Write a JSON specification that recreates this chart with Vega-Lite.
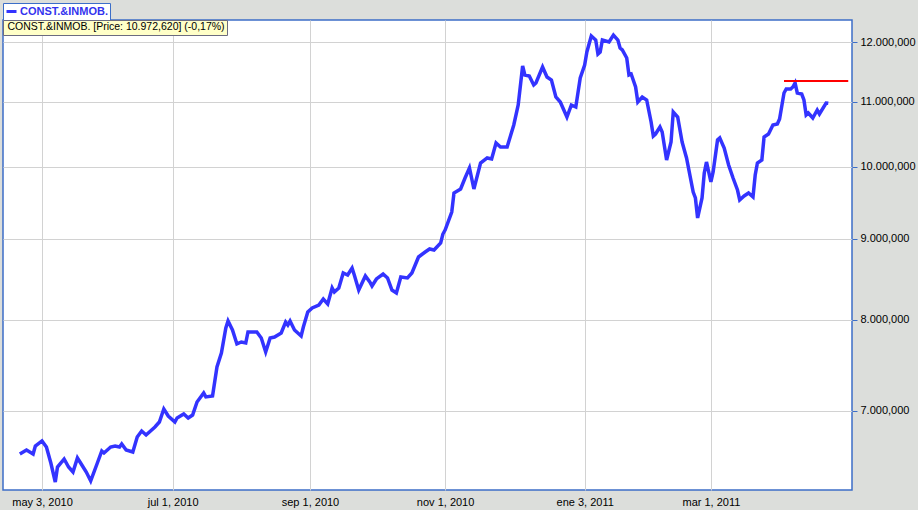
{
  "$schema": "https://vega.github.io/schema/vega-lite/v6.json",
  "width": 849,
  "height": 470,
  "autosize": {"type": "none"},
  "padding": {"left": 3, "top": 20, "right": 66, "bottom": 20},
  "background": "#dcdedb",
  "config": {
    "view": {"fill": "white", "stroke": "#3c6ec8", "strokeWidth": 1.5},
    "font": "Liberation Sans"
  },
  "layer": [
    {
      "data": {"values": [
        {"d":"2010-04-23","v":6574000},{"d":"2010-04-26","v":6612000},{"d":"2010-04-29","v":6574000},{"d":"2010-04-30","v":6651000},
        {"d":"2010-05-03","v":6700000},{"d":"2010-05-05","v":6641000},{"d":"2010-05-07","v":6488000},{"d":"2010-05-09","v":6310000},
        {"d":"2010-05-10","v":6450000},{"d":"2010-05-13","v":6526000},{"d":"2010-05-15","v":6450000},{"d":"2010-05-17","v":6403000},
        {"d":"2010-05-19","v":6536000},{"d":"2010-05-21","v":6469000},{"d":"2010-05-23","v":6403000},{"d":"2010-05-25","v":6320000},
        {"d":"2010-05-28","v":6488000},{"d":"2010-05-30","v":6603000},{"d":"2010-05-31","v":6584000},{"d":"2010-06-03","v":6641000},
        {"d":"2010-06-05","v":6651000},{"d":"2010-06-07","v":6641000},{"d":"2010-06-08","v":6671000},{"d":"2010-06-10","v":6612000},
        {"d":"2010-06-13","v":6593000},{"d":"2010-06-15","v":6739000},{"d":"2010-06-17","v":6798000},{"d":"2010-06-19","v":6759000},
        {"d":"2010-06-23","v":6838000},{"d":"2010-06-25","v":6888000},{"d":"2010-06-27","v":7021000},{"d":"2010-06-29","v":6949000},
        {"d":"2010-07-02","v":6888000},{"d":"2010-07-03","v":6929000},{"d":"2010-07-06","v":6969000},{"d":"2010-07-08","v":6929000},
        {"d":"2010-07-10","v":6959000},{"d":"2010-07-12","v":7093000},{"d":"2010-07-15","v":7186000},{"d":"2010-07-16","v":7145000},
        {"d":"2010-07-19","v":7155000},{"d":"2010-07-21","v":7465000},{"d":"2010-07-23","v":7619000},{"d":"2010-07-25","v":7902000},
        {"d":"2010-07-26","v":7983000},{"d":"2010-07-28","v":7879000},{"d":"2010-07-30","v":7720000},{"d":"2010-08-01","v":7742000},
        {"d":"2010-08-03","v":7731000},{"d":"2010-08-04","v":7856000},{"d":"2010-08-08","v":7856000},{"d":"2010-08-10","v":7788000},
        {"d":"2010-08-12","v":7630000},{"d":"2010-08-14","v":7788000},{"d":"2010-08-16","v":7799000},{"d":"2010-08-19","v":7845000},
        {"d":"2010-08-21","v":7972000},{"d":"2010-08-22","v":7937000},{"d":"2010-08-23","v":7983000},{"d":"2010-08-25","v":7879000},
        {"d":"2010-08-28","v":7810000},{"d":"2010-08-29","v":7914000},{"d":"2010-08-31","v":8089000},{"d":"2010-09-02","v":8137000},
        {"d":"2010-09-05","v":8172000},{"d":"2010-09-07","v":8244000},{"d":"2010-09-09","v":8184000},{"d":"2010-09-11","v":8378000},
        {"d":"2010-09-12","v":8329000},{"d":"2010-09-14","v":8378000},{"d":"2010-09-16","v":8563000},{"d":"2010-09-18","v":8538000},
        {"d":"2010-09-20","v":8626000},{"d":"2010-09-21","v":8538000},{"d":"2010-09-23","v":8353000},{"d":"2010-09-26","v":8526000},
        {"d":"2010-09-28","v":8452000},{"d":"2010-09-29","v":8402000},{"d":"2010-10-01","v":8489000},{"d":"2010-10-04","v":8551000},
        {"d":"2010-10-06","v":8501000},{"d":"2010-10-08","v":8353000},{"d":"2010-10-10","v":8317000},{"d":"2010-10-12","v":8513000},
        {"d":"2010-10-15","v":8501000},{"d":"2010-10-17","v":8563000},{"d":"2010-10-20","v":8766000},{"d":"2010-10-23","v":8830000},
        {"d":"2010-10-25","v":8869000},{"d":"2010-10-27","v":8856000},{"d":"2010-10-30","v":8947000},{"d":"2010-10-31","v":9065000},
        {"d":"2010-11-01","v":9118000},{"d":"2010-11-04","v":9361000},{"d":"2010-11-05","v":9625000},{"d":"2010-11-08","v":9681000},
        {"d":"2010-11-10","v":9838000},{"d":"2010-11-12","v":9983000},{"d":"2010-11-14","v":9681000},{"d":"2010-11-17","v":10056000},
        {"d":"2010-11-20","v":10130000},{"d":"2010-11-22","v":10115000},{"d":"2010-11-24","v":10354000},{"d":"2010-11-26","v":10294000},
        {"d":"2010-11-29","v":10294000},{"d":"2010-12-02","v":10630000},{"d":"2010-12-04","v":10945000},{"d":"2010-12-06","v":11587000},
        {"d":"2010-12-07","v":11436000},{"d":"2010-12-09","v":11419000},{"d":"2010-12-11","v":11270000},{"d":"2010-12-12","v":11303000},
        {"d":"2010-12-15","v":11570000},{"d":"2010-12-17","v":11402000},{"d":"2010-12-19","v":11352000},{"d":"2010-12-21","v":11074000},
        {"d":"2010-12-23","v":10993000},{"d":"2010-12-26","v":10755000},{"d":"2010-12-28","v":10945000},{"d":"2010-12-30","v":10913000},
        {"d":"2011-01-01","v":11386000},{"d":"2011-01-03","v":11604000},{"d":"2011-01-04","v":11826000},{"d":"2011-01-06","v":12106000},
        {"d":"2011-01-08","v":12035000},{"d":"2011-01-09","v":11792000},{"d":"2011-01-10","v":11826000},{"d":"2011-01-11","v":12035000},
        {"d":"2011-01-14","v":12000000},{"d":"2011-01-16","v":12123000},{"d":"2011-01-18","v":12035000},{"d":"2011-01-19","v":11895000},
        {"d":"2011-01-20","v":11861000},{"d":"2011-01-22","v":11723000},{"d":"2011-01-23","v":11436000},{"d":"2011-01-24","v":11452000},
        {"d":"2011-01-26","v":11237000},{"d":"2011-01-27","v":10993000},{"d":"2011-01-29","v":11074000},{"d":"2011-01-31","v":11025000},
        {"d":"2011-02-02","v":10677000},{"d":"2011-02-03","v":10461000},{"d":"2011-02-04","v":10491000},{"d":"2011-02-06","v":10599000},
        {"d":"2011-02-07","v":10522000},{"d":"2011-02-09","v":10100000},{"d":"2011-02-11","v":10369000},{"d":"2011-02-12","v":10834000},
        {"d":"2011-02-14","v":10755000},{"d":"2011-02-16","v":10369000},{"d":"2011-02-18","v":10130000},{"d":"2011-02-21","v":9639000},
        {"d":"2011-02-22","v":9555000},{"d":"2011-02-23","v":9280000},{"d":"2011-02-25","v":9555000},{"d":"2011-02-26","v":9910000},
        {"d":"2011-02-27","v":10071000},{"d":"2011-03-01","v":9781000},{"d":"2011-03-02","v":9925000},{"d":"2011-03-04","v":10400000},
        {"d":"2011-03-05","v":10430000},{"d":"2011-03-07","v":10279000},{"d":"2011-03-09","v":10027000},{"d":"2011-03-11","v":9838000},
        {"d":"2011-03-13","v":9667000},{"d":"2011-03-14","v":9527000},{"d":"2011-03-16","v":9583000},{"d":"2011-03-18","v":9625000},
        {"d":"2011-03-20","v":9569000},{"d":"2011-03-21","v":9881000},{"d":"2011-03-22","v":10056000},{"d":"2011-03-24","v":10100000},
        {"d":"2011-03-25","v":10445000},{"d":"2011-03-27","v":10491000},{"d":"2011-03-29","v":10630000},{"d":"2011-03-31","v":10646000},
        {"d":"2011-04-01","v":10724000},{"d":"2011-04-03","v":11139000},{"d":"2011-04-04","v":11204000},{"d":"2011-04-06","v":11204000},
        {"d":"2011-04-07","v":11237000},{"d":"2011-04-08","v":11303000},{"d":"2011-04-09","v":11139000},{"d":"2011-04-11","v":11122000},
        {"d":"2011-04-12","v":11025000},{"d":"2011-04-13","v":10786000},{"d":"2011-04-14","v":10818000},{"d":"2011-04-16","v":10739000},
        {"d":"2011-04-18","v":10865000},{"d":"2011-04-19","v":10802000},{"d":"2011-04-22","v":10977000},{"d":"2011-04-23","v":10972620}
      ]},
      "mark": {"type": "line", "strokeWidth": 3.5, "clip": true},
      "encoding": {
        "x": {
          "field": "d", "type": "temporal",
          "scale": {"type": "utc", "domain": [
            {"year": 2010, "month": 4, "date": 15, "hours": 9, "minutes": 36, "utc": true},
            {"year": 2011, "month": 5, "date": 3, "hours": 16, "minutes": 48, "utc": true}
          ]},
          "axis": {
            "title": null,
            "values": [
              {"year": 2010, "month": 5, "date": 3, "utc": true},
              {"year": 2010, "month": 7, "date": 1, "utc": true},
              {"year": 2010, "month": 9, "date": 1, "utc": true},
              {"year": 2010, "month": 11, "date": 1, "utc": true},
              {"year": 2011, "month": 1, "date": 3, "utc": true},
              {"year": 2011, "month": 3, "date": 1, "utc": true}
            ],
            "labelExpr": "lower(replace(utcFormat(datum.value, '%b %-d, %Y'), 'Jan', 'Ene'))",
            "grid": true, "gridColor": "#d2d2d2", "gridWidth": 1,
            "ticks": false, "domain": false,
            "labelFont": "Liberation Sans", "labelFontSize": 11, "labelColor": "#000000",
            "labelPadding": 6, "labelFlush": false, "labelOverlap": false
          }
        },
        "y": {
          "field": "v", "type": "quantitative",
          "scale": {"type": "log", "domain": [6237000, 12392000], "nice": false, "zero": false},
          "axis": {
            "orient": "right", "title": null,
            "values": [7000000, 8000000, 9000000, 10000000, 11000000, 12000000],
            "labelExpr": "replace(format(datum.value, ','), ',', '.')",
            "grid": true, "gridColor": "#d2d2d2", "gridWidth": 1,
            "ticks": true, "tickColor": "#3c6ec8", "tickSize": 5, "tickWidth": 1,
            "domain": false,
            "labelFont": "Liberation Sans", "labelFontSize": 11, "labelColor": "#000000",
            "labelPadding": 3, "labelOverlap": false, "labelFlush": false
          }
        },
        "color": {
          "datum": "CONST.&INMOB.",
          "scale": {"range": ["#3333ff"]},
          "legend": {
            "orient": "none", "legendX": 0, "legendY": -17,
            "title": null, "fillColor": "#ffffff", "strokeColor": "#3c6ec8",
            "padding": 2, "symbolType": "stroke", "symbolSize": 100, "symbolStrokeWidth": 3,
            "labelFont": "Liberation Sans", "labelFontSize": 11, "labelFontWeight": "bold",
            "labelColor": "#3333ee", "labelOffset": 2, "labelLimit": 300
          }
        }
      }
    },
    {
      "data": {"values": [
        {"inicio": "2011-04-03", "fin": "2011-05-02", "nivel": 11335000}
      ]},
      "mark": {"type": "rule", "color": "#ff0000", "strokeWidth": 2},
      "encoding": {
        "x": {"field": "inicio", "type": "temporal"},
        "x2": {"field": "fin"},
        "y": {"field": "nivel", "type": "quantitative"},
        "strokeDash": {
          "datum": "CONST.&INMOB. [Price: 10.972,620] (-0,17%)",
          "scale": {"range": [[1, 0]]},
          "legend": {
            "orient": "none", "legendX": 0, "legendY": 0,
            "title": null, "fillColor": "#ffffc8", "strokeColor": "#6b6b80",
            "padding": 2, "symbolOpacity": 0, "symbolSize": 0, "symbolStrokeWidth": 0,
            "labelFont": "Liberation Sans", "labelFontSize": 10.5, "labelColor": "#000000",
            "labelOffset": -8, "labelLimit": 400
          }
        }
      }
    }
  ]
}
